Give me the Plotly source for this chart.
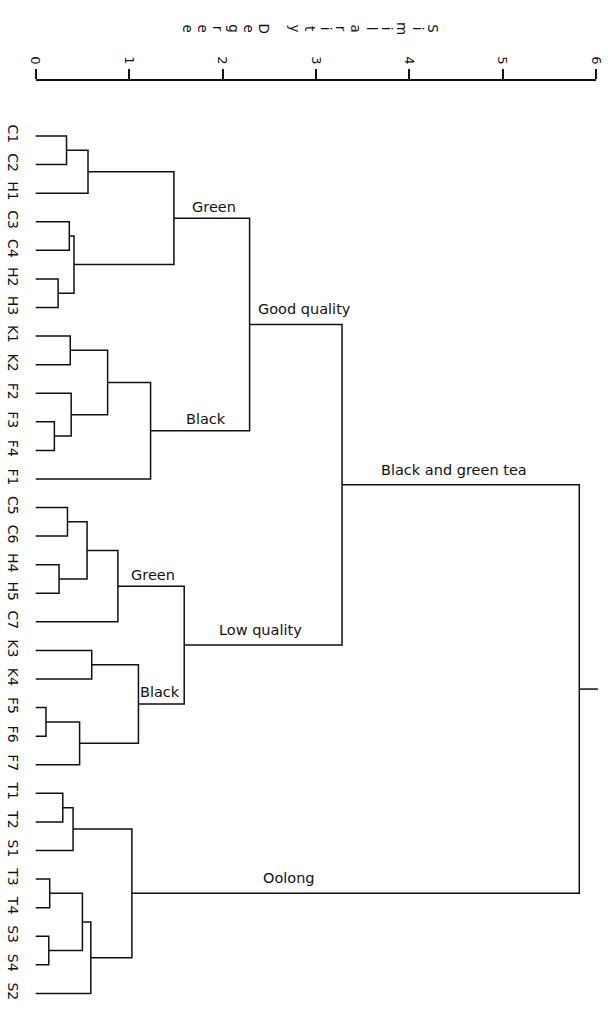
import plotly.graph_objects as go

# ---------------- data ----------------
leaves = ["C1", "C2", "H1", "C3", "C4", "H2", "H3", "K1", "K2", "F2", "F3", "F4", "F1",
          "C5", "C6", "H4", "H5", "C7", "K3", "K4", "F5", "F6", "F7",
          "T1", "T2", "S1", "T3", "T4", "S3", "S4", "S2"]

# merge i creates node "n{i+1}"
merge_left = ["C1", "n1", "C3", "H2", "n3", "n2", "K1", "F3", "F2", "n7", "n10", "n6",
              "C5", "H4", "n13", "n15", "K3", "F5", "n18", "n17", "n16", "n12",
              "T1", "n23", "T3", "S3", "n25", "n27", "n24", "n22"]
merge_right = ["C2", "H1", "C4", "H3", "n4", "n5", "K2", "F4", "n8", "n9", "F1", "n11",
               "C6", "H5", "n14", "C7", "K4", "F6", "F7", "n19", "n20", "n21",
               "T2", "S1", "T4", "S4", "n26", "S2", "n28", "n29"]
merge_height = [0.33, 0.56, 0.36, 0.24, 0.41, 1.48, 0.37, 0.20, 0.38, 0.77, 1.23, 2.29,
                0.34, 0.25, 0.55, 0.88, 0.60, 0.11, 0.47, 1.10, 1.59, 3.28,
                0.29, 0.40, 0.15, 0.14, 0.50, 0.59, 1.03, 5.82]
root_tail = 6.02

cluster_labels = ["Green", "Black", "Good quality", "Green", "Black", "Low quality",
                  "Black and green tea", "Oolong"]
cluster_nodes = ["n6", "n11", "n12", "n16", "n20", "n21", "n22", "n29"]

axis_ticks = [0, 1, 2, 3, 4, 5, 6]
axis_title = "Similarity Degree"

# ---------------- layout helpers ----------------
W, H = 608, 1027
PX0, PXU = 35.7, 93.4          # pixel of value 0, pixels per unit
LEAF0, LEAFSTEP = 136.0, 28.58  # pixel of first leaf, spacing
XDOM0 = 23                      # left of dendrogram plotting area (px)

label_x = [1.91, 1.82, 2.88, 1.26, 1.33, 2.41, 4.48, 2.71]
label_shift = [11.5, 11.5, 15, 11.5, 12, 15, 15, 15]

# ---------------- build tree geometry ----------------
pos = {name: float(i) for i, name in enumerate(leaves)}
hgt = {name: 0.0 for name in leaves}
xs, ys = [], []
for i, (l, r, h) in enumerate(zip(merge_left, merge_right, merge_height)):
    node = f"n{i+1}"
    xs += [hgt[l], h, h, hgt[r], None]
    ys += [pos[l], pos[l], pos[r], pos[r], None]
    pos[node] = (pos[l] + pos[r]) / 2
    hgt[node] = h
root = f"n{len(merge_height)}"
xs += [hgt[root], root_tail, None]
ys += [pos[root], pos[root], None]

LINE = dict(color="#111111", width=1.5)
FONT = "DejaVu Sans"

fig = go.Figure()
fig.add_trace(go.Scatter(x=xs, y=ys, mode="lines", line=LINE,
                         hoverinfo="skip", showlegend=False))
fig.add_trace(go.Scatter(x=[], y=[], xaxis="x2", yaxis="y",
                         hoverinfo="skip", showlegend=False))

for txt, node, lx, sh in zip(cluster_labels, cluster_nodes, label_x, label_shift):
    fig.add_annotation(x=lx, y=pos[node], xref="x", yref="y", text=txt,
                       showarrow=False, xanchor="center", yanchor="middle",
                       yshift=sh, font=dict(family=FONT, size=14.5, color="#111111"))

# axis title written as a vertical stack of letters, then turned with the chart
title_lines = [f'<span style="font-size:13.5px">{ch}</span>' if ch != " " else ""
               for ch in axis_title]
title_text = "<br>".join(title_lines)
fig.add_annotation(x=310 / W, y=1 - 29 / H, xref="paper", yref="paper",
                   text=title_text, textangle=90, showarrow=False,
                   xanchor="center", yanchor="middle",
                   font=dict(family=FONT, size=11.8, color="#111111"))

r0 = (XDOM0 - PX0) / PXU
r1 = (W - PX0) / PXU
y_top = -LEAF0 / LEAFSTEP
y_bot = (H - LEAF0) / LEAFSTEP

fig.update_layout(
    width=W, height=H,
    margin=dict(l=0, r=0, t=0, b=0, autoexpand=False),
    paper_bgcolor="white", plot_bgcolor="rgba(0,0,0,0)",
    xaxis=dict(domain=[XDOM0 / W, 1], range=[r0, r1], visible=False, automargin=False),
    xaxis2=dict(domain=[PX0 / W, (PX0 + 6 * PXU) / W], range=[0, 6],
                anchor="free", position=1 - 80 / H, side="top", automargin=False,
                tickmode="array", tickvals=axis_ticks, ticktext=[str(t) for t in axis_ticks],
                ticks="outside", ticklen=10, tickwidth=1.5, tickcolor="#111111",
                showline=True, linewidth=1.7, linecolor="#111111",
                showgrid=False, zeroline=False, tickangle=90,
                tickfont=dict(family=FONT, size=13, color="#111111")),
    yaxis=dict(range=[y_bot, y_top], tickmode="array", automargin=False,
               tickvals=list(range(len(leaves))), ticktext=leaves,
               tickangle=90, ticks="", showline=False, showgrid=False, zeroline=False,
               tickfont=dict(family=FONT, size=14, color="#111111")),
    showlegend=False,
)

fig.write_html("out.html")
